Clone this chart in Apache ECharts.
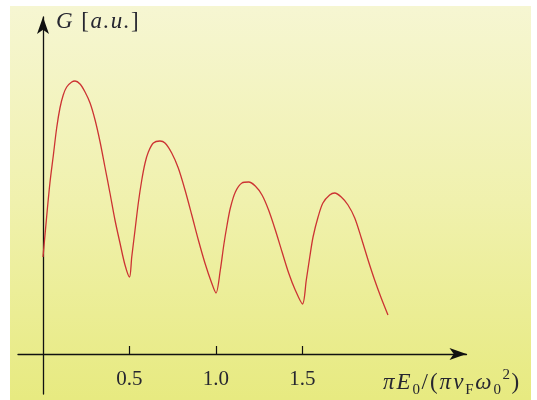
<!DOCTYPE html>
<html>
<head>
<meta charset="utf-8">
<script src="https://cdn.jsdelivr.net/npm/echarts@6/dist/echarts.min.js"></script>
<style>html,body{margin:0;padding:0;background:#fff;}#c{width:537px;height:400px;}</style>
</head>
<body>
<div id="c"></div>
<script>
// Data (x in units of pi E0/(pi vF w0^2), G in a.u.)
const xValues = [0, 0.021, 0.040, 0.060, 0.079, 0.098, 0.117, 0.137, 0.166, 0.185, 0.214, 0.243, 0.272, 0.301, 0.330, 0.358, 0.387, 0.416, 0.445, 0.474, 0.5,
  0.513, 0.532, 0.551, 0.571, 0.590, 0.609, 0.638, 0.676, 0.705, 0.744, 0.782, 0.821, 0.860, 0.898, 0.936, 0.975, 1.0,
  1.025, 1.045, 1.064, 1.083, 1.112, 1.150, 1.189, 1.227, 1.266, 1.304, 1.343, 1.382, 1.420, 1.458, 1.5,
  1.522, 1.542, 1.561, 1.590, 1.618, 1.657, 1.686, 1.724, 1.763, 1.802, 1.840, 1.879, 1.917, 1.955, 1.994];
const gValues = [0.97, 1.37, 1.71, 1.99, 2.26, 2.46, 2.59, 2.67, 2.72, 2.73, 2.70, 2.62, 2.51, 2.34, 2.12, 1.87, 1.61, 1.34, 1.11, 0.89, 0.77,
  0.97, 1.24, 1.51, 1.74, 1.91, 2.02, 2.11, 2.13, 2.11, 2.01, 1.86, 1.64, 1.39, 1.14, 0.91, 0.71, 0.61,
  0.84, 1.09, 1.29, 1.46, 1.62, 1.71, 1.72, 1.68, 1.59, 1.44, 1.24, 1.02, 0.81, 0.64, 0.50,
  0.74, 0.97, 1.17, 1.37, 1.51, 1.59, 1.61, 1.57, 1.49, 1.36, 1.16, 0.94, 0.74, 0.56, 0.39];
const xTicks = [0.5, 1.0, 1.5];

const seriesData = xValues.map((x, i) => [x, gValues[i]]);
const serif = '"Liberation Serif", "DejaVu Serif", serif';
const txt = '#262630';

const chart = echarts.init(document.getElementById('c'), null, {renderer: 'canvas'});
chart.setOption({
  animation: false,
  backgroundColor: '#ffffff',
  graphic: [{
    type: 'rect', z: -100, silent: true,
    shape: {x: 10, y: 6, width: 521, height: 394},
    style: {fill: new echarts.graphic.LinearGradient(0, 0, 0, 1, [
      {offset: 0, color: '#f6f6d2'},
      {offset: 0.5, color: '#f0f1ad'},
      {offset: 1, color: '#e7ea80'}
    ])}
  }],
  title: [{
    left: 56, top: 10, padding: 0,
    text: '{i|G}{n| }{n|[}{i|a}{i|.}{i|u}{i|.}{n|]}',
    textStyle: {
      rich: {
        i: {fontFamily: serif, fontStyle: 'italic', fontWeight: 'normal', fontSize: 23, padding: [0, 1.5, 0, 0], color: txt},
        n: {fontFamily: serif, fontWeight: 'normal', fontSize: 23, padding: [0, 1.5, 0, 0], color: txt}
      }
    }
  }, {
    left: 383, top: 368, padding: 0,
    text: '{i|π}{i|E}{s|0}{n|/}{n|(}{i|π}{i|v}{s|F}{i|ω}{s|0}{p|2}{n|)}',
    textStyle: {
      rich: {
        i: {fontFamily: serif, fontStyle: 'italic', fontWeight: 'normal', fontSize: 23, lineHeight: 30, padding: [0, 2, 0, 0], color: txt},
        n: {fontFamily: serif, fontWeight: 'normal', fontSize: 23, lineHeight: 30, padding: [0, 2, 0, 0], color: txt},
        s: {fontFamily: serif, fontWeight: 'normal', fontSize: 15, lineHeight: 15, padding: [0, 1.5, 0, 0], verticalAlign: 'bottom', color: txt},
        p: {fontFamily: serif, fontWeight: 'normal', fontSize: 15, lineHeight: 19, padding: [0, 1.5, 0, 0], verticalAlign: 'top', color: txt}
      }
    }
  }],
  grid: {left: 18, right: 70.5, top: 17, bottom: 6, containLabel: false, outerBoundsMode: 'none'},
  xAxis: {
    type: 'value', min: -0.1445, max: 2.448,
    axisLine: {onZero: true, lineStyle: {color: '#111', width: 1.3}, symbol: ['none', 'arrow'], symbolSize: [9, 17]},
    axisTick: {show: true, inside: true, length: 8, customValues: xTicks, lineStyle: {color: '#111', width: 1.2}},
    axisLabel: {show: true, customValues: xTicks, margin: -25, formatter: v => v.toFixed(1),
      fontFamily: serif, fontSize: 21, color: txt},
    splitLine: {show: false}
  },
  yAxis: {
    type: 'value', min: -0.40, max: 3.37,
    axisLine: {show: true, onZero: true, lineStyle: {color: '#111', width: 1.3}, symbol: ['none', 'arrow'], symbolSize: [9, 17]},
    axisTick: {show: false},
    axisLabel: {show: false},
    splitLine: {show: false}
  },
  series: [{
    type: 'line',
    data: seriesData,
    showSymbol: false,
    smooth: 0.3,
    lineStyle: {color: '#cc3333', width: 1.3, join: 'round'},
    z: 3
  }]
});
</script>
</body>
</html>
